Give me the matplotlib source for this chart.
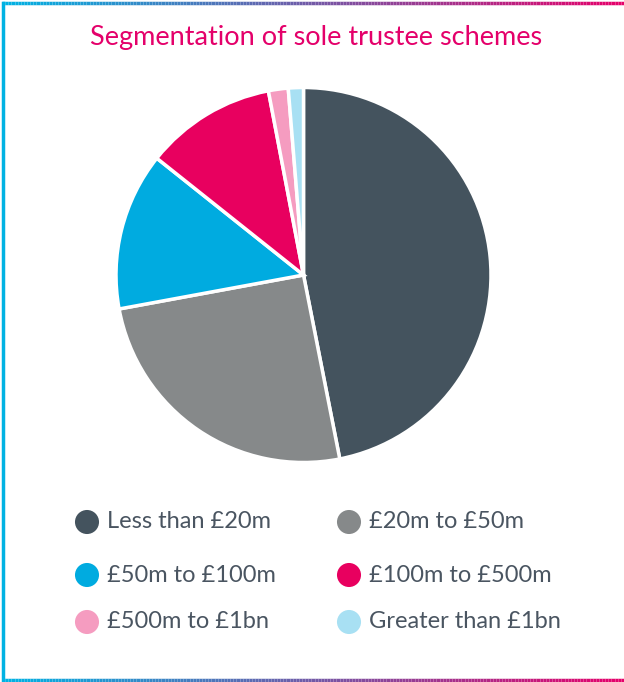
import matplotlib
matplotlib.use("Agg")
import matplotlib.pyplot as plt
import numpy as np
from matplotlib.collections import LineCollection
from matplotlib.colors import LinearSegmentedColormap

# data
labels = ["Less than £20m", "£20m to £50m", "£50m to £100m",
          "£100m to £500m", "£500m to £1bn", "Greater than £1bn"]
shares = [46.9, 25.2, 13.6, 11.3, 1.7, 1.3]
colors = ["#44535e", "#86898a", "#00abe0", "#e8005f", "#f59cc0", "#a8e0f3"]

title = "Segmentation of sole trustee schemes"
title_color = "#e4006a"
text_color = "#4a5561"

plt.rcParams["font.family"] = ["Lato", "DejaVu Sans"]

W, H = 624, 682
fig = plt.figure(figsize=(W / 100, H / 100), dpi=100)

# gradient frame (no right edge in the original)
bg = fig.add_axes([0, 0, 1, 1])
bg.set_xlim(0, W)
bg.set_ylim(H, 0)
bg.axis("off")
grad = LinearSegmentedColormap.from_list("frame", ["#00b2e3", "#e6006a"])
xs = np.linspace(2, W, 200)
for yline in (3, H - 2.5):
    segs = [[(xs[i], yline), (xs[i + 1], yline)] for i in range(len(xs) - 1)]
    lc = LineCollection(segs, colors=grad(np.linspace(0, 1, len(segs))),
                        linewidths=2.5, capstyle="butt")
    bg.add_collection(lc)
bg.plot([3, 3], [3, H - 2.5], color="#00b2e3", lw=2.5)

bg.text(316, 38, title, color=title_color, fontsize=19.5,
        ha="center", va="center")

# pie
cx, cy, r = 303.5, 275, 187.5
ax = fig.add_axes([(cx - r) / W, (H - cy - r) / H, 2 * r / W, 2 * r / H])
ax.pie(shares, colors=colors, startangle=90, counterclock=False,
       radius=1, wedgeprops=dict(edgecolor="white", linewidth=2.5))
ax.set_xlim(-1, 1)
ax.set_ylim(-1, 1)
ax.set_aspect("equal")
ax.axis("off")

# legend, two columns
col_x = [87, 349]
row_y = [522, 575, 622]
for i, (lab, c) in enumerate(zip(labels, colors)):
    x = col_x[i % 2]
    y = row_y[i // 2]
    bg.scatter([x], [y], s=300, color=c, edgecolors="none")
    bg.text(x + 20, y, lab, color=text_color, fontsize=17,
            ha="left", va="center")

fig.savefig("out.png", dpi=100)
